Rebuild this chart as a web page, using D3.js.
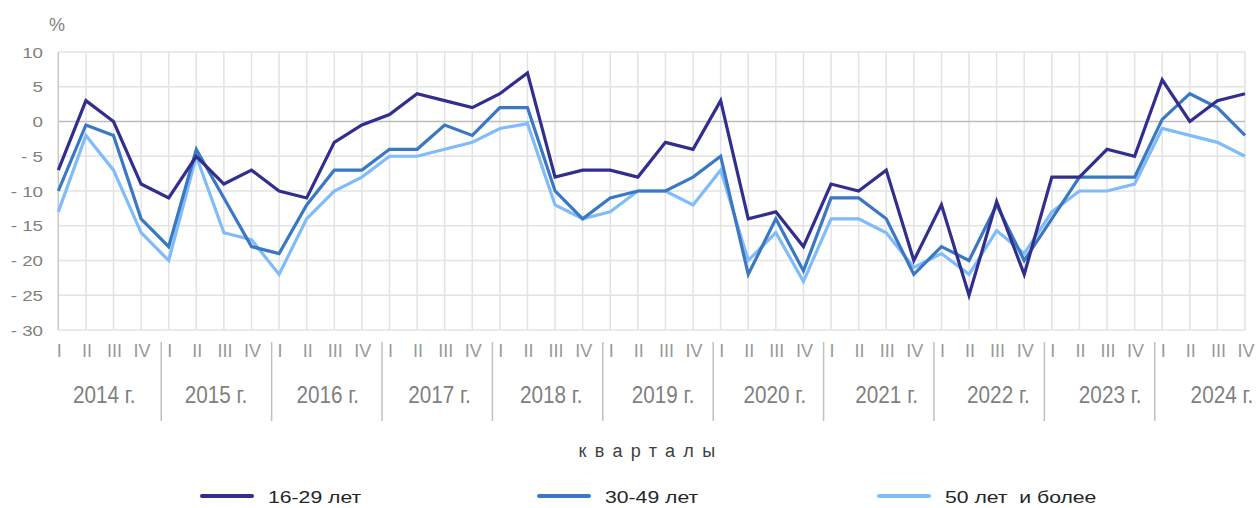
<!DOCTYPE html>
<html>
<head>
<meta charset="utf-8">
<script src="https://cdn.jsdelivr.net/npm/d3@7"></script>
<style>
  body { margin: 0; background: #fff; }
  text { font-family: "Liberation Sans", Arial, sans-serif; }
</style>
</head>
<body>
<div id="chart"></div>
<script>
// quarters 2014 I .. 2024 IV
var years = ["2014", "2015", "2016", "2017", "2018", "2019", "2020", "2021", "2022", "2023", "2024"];
var quarterNames = ["I", "II", "III", "IV"];

var age16_29 = [-7, 3, 0, -9, -11, -5, -9, -7, -10, -11,
  -3, -0.5, 1, 4, 3, 2, 4, 7, -8, -7,
  -7, -8, -3, -4, 3, -14, -13, -18, -9, -10,
  -7, -20, -12, -25, -11.5, -22, -8, -8, -4, -5,
  6, 0, 3, 4];
var age30_49 = [-10, -0.5, -2, -14, -18, -4, -11, -18, -19, -12,
  -7, -7, -4, -4, -0.5, -2, 2, 2, -10, -14,
  -11, -10, -10, -8, -5, -22, -14, -21.5, -11, -11,
  -14, -22, -18, -20, -12, -20, -14, -8, -8, -8,
  0.3, 4, 2, -2];
var age50plus = [-13, -2, -7, -16, -20, -5, -16, -17, -22, -14,
  -10, -8, -5, -5, -4, -3, -1, -0.3, -12, -14,
  -13, -10, -10, -12, -7, -20, -16, -23, -14, -14,
  -16, -21, -19, -22, -15.7, -19, -13, -10, -10, -9,
  -1, -2, -3, -5];

var seriesNames = ["16-29 лет", "30-49 лет", "50 лет  и более"];
var seriesColors = ["#312e8e", "#3b78c3", "#7fbcf8"];
var yTicks = [10, 5, 0, -5, -10, -15, -20, -25, -30];

var width = 1259, height = 508;
var margin = {top: 52, left: 58, right: 14, bottom: 178};

var svg = d3.select("#chart").append("svg")
  .attr("width", width)
  .attr("height", height);

var idx = d3.range(years.length * 4);

var x = d3.scalePoint()
  .domain(idx)
  .range([margin.left + 0.3, width - margin.right]);

var y = d3.scaleLinear()
  .domain([-30, 10])
  .range([height - margin.bottom, margin.top]);

var step = x.step();

// grid
svg.append("g").selectAll("line.h")
  .data(yTicks.filter(function(d) { return d !== 0; }))
  .enter().append("line")
  .attr("x1", x(0)).attr("x2", x(idx.length - 1))
  .attr("y1", function(d) { return y(d); })
  .attr("y2", function(d) { return y(d); })
  .attr("stroke", "#e3e3e3")
  .attr("stroke-width", 1.5);

svg.append("g").selectAll("line.v")
  .data(idx.slice(1))
  .enter().append("line")
  .attr("x1", function(d) { return x(d); })
  .attr("x2", function(d) { return x(d); })
  .attr("y1", y(10)).attr("y2", y(-30))
  .attr("stroke", "#e3e3e3")
  .attr("stroke-width", 1.5);

// zero line
svg.append("line")
  .attr("x1", x(0)).attr("x2", x(idx.length - 1))
  .attr("y1", y(0)).attr("y2", y(0))
  .attr("stroke", "#bdbdbd")
  .attr("stroke-width", 1.5);

// left axis
svg.append("line")
  .attr("x1", x(0)).attr("x2", x(0))
  .attr("y1", y(10)).attr("y2", y(-30))
  .attr("stroke", "#c8c8c8")
  .attr("stroke-width", 1.5);

// y tick labels
svg.append("g").selectAll("text")
  .data(yTicks)
  .enter().append("text")
  .attr("transform", function(d) { return "translate(43," + (y(d) + 5.5) + ") scale(1.25,1)"; })
  .attr("text-anchor", "end")
  .attr("font-size", 15)
  .attr("fill", "#808080")
  .text(function(d) { return d < 0 ? "- " + Math.abs(d) : d; });

svg.append("text")
  .attr("x", 57).attr("y", 31)
  .attr("text-anchor", "middle")
  .attr("font-size", 18)
  .attr("fill", "#808080")
  .text("%");

// lines
var line = d3.line()
  .x(function(d, i) { return x(i); })
  .y(function(d) { return y(d); });

var allSeries = [age16_29, age30_49, age50plus];

svg.append("g").selectAll("path")
  .data([2, 1, 0])
  .enter().append("path")
  .attr("d", function(k) { return line(allSeries[k]); })
  .attr("fill", "none")
  .attr("stroke", function(k) { return seriesColors[k]; })
  .attr("stroke-width", 3.2)
  .attr("stroke-linejoin", "miter");

// quarter labels
svg.append("g").selectAll("text")
  .data(idx)
  .enter().append("text")
  .attr("x", function(d) { return x(d) + 1; })
  .attr("y", 357)
  .attr("text-anchor", "middle")
  .attr("font-size", 18)
  .attr("fill", "#999999")
  .text(function(d) { return quarterNames[d % 4]; });

// year separators
svg.append("g").selectAll("line")
  .data(d3.range(1, years.length))
  .enter().append("line")
  .attr("x1", function(k) { return x(k * 4) - 0.27 * step; })
  .attr("x2", function(k) { return x(k * 4) - 0.27 * step; })
  .attr("y1", 342).attr("y2", 421)
  .attr("stroke", "#c0c0c0")
  .attr("stroke-width", 1.5);

// year labels (drift slightly right toward the end, as in the original)
svg.append("g").selectAll("text")
  .data(years)
  .enter().append("text")
  .attr("transform", function(d, k) {
    var cx = (x(k * 4) + x(k * 4 + 3)) / 2 + 4.6 + 1.37 * k;
    return "translate(" + cx + ",403) scale(0.9,1)";
  })
  .attr("text-anchor", "middle")
  .attr("font-size", 23)
  .attr("fill", "#7f7f7f")
  .text(function(d) { return d + " г."; });

// axis title
svg.append("text")
  .attr("x", 651).attr("y", 457)
  .attr("text-anchor", "middle")
  .attr("font-size", 18)
  .attr("letter-spacing", 8.3)
  .attr("fill", "#404040")
  .text("кварталы");

// legend
var legendX = [202, 539, 879];
var legend = svg.append("g").selectAll("g")
  .data(seriesNames)
  .enter().append("g")
  .attr("transform", function(d, i) { return "translate(" + legendX[i] + ",496)"; });

legend.append("line")
  .attr("x1", 0).attr("x2", 50)
  .attr("stroke", function(d, i) { return seriesColors[i]; })
  .attr("stroke-width", 4)
  .attr("stroke-linecap", "round");

legend.append("text")
  .attr("transform", "translate(66,6.5) scale(1.3,1)")
  .attr("font-size", 16.3)
  .attr("fill", "#262626")
  .style("white-space", "pre")
  .text(function(d) { return d; });
</script>
</body>
</html>
